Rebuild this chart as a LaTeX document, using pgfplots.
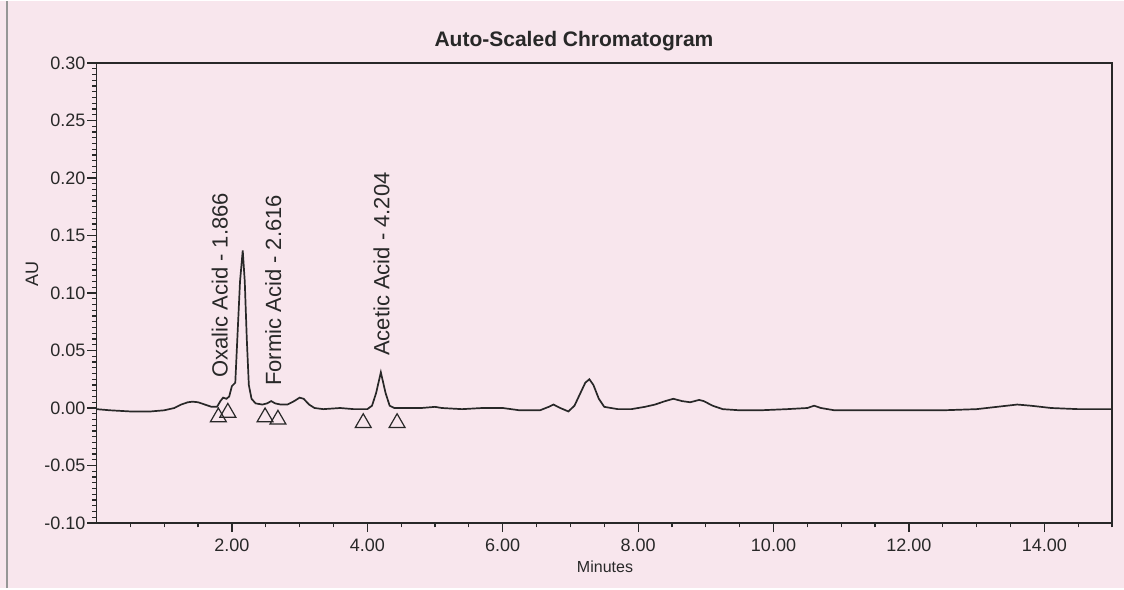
\documentclass[border=0pt]{standalone}
\usepackage{pgfplots}
\pgfplotsset{compat=1.18}
\usepackage{fontspec}
\setmainfont{Liberation Sans}
\definecolor{bg}{RGB}{248,230,237}
\definecolor{ink}{RGB}{40,40,40}
\definecolor{frame}{RGB}{150,150,150}
\pgfplotstableread{
t v
0.00 -0.001
0.20 -0.002
0.50 -0.003
0.80 -0.003
1.00 -0.002
1.15 0.000
1.25 0.003
1.35 0.005
1.42 0.0055
1.50 0.005
1.60 0.003
1.70 0.001
1.78 0.001
1.83 0.006
1.87 0.009
1.92 0.008
1.96 0.010
2.00 0.019
2.05 0.022
2.08 0.060
2.12 0.110
2.16 0.137
2.19 0.110
2.22 0.060
2.25 0.020
2.29 0.008
2.35 0.004
2.45 0.003
2.52 0.004
2.58 0.006
2.64 0.004
2.72 0.003
2.82 0.003
2.92 0.006
3.00 0.009
3.06 0.008
3.14 0.003
3.22 0.000
3.35 -0.001
3.60 0.000
3.80 -0.001
4.00 -0.001
4.07 0.002
4.13 0.013
4.20 0.031
4.27 0.013
4.33 0.002
4.40 0.000
4.60 0.000
4.80 0.000
5.00 0.001
5.10 0.000
5.40 -0.001
5.70 0.000
6.00 0.000
6.25 -0.002
6.55 -0.002
6.68 0.001
6.75 0.003
6.85 0.000
6.97 -0.003
7.06 0.002
7.14 0.012
7.22 0.022
7.28 0.025
7.34 0.020
7.42 0.008
7.50 0.001
7.70 -0.001
7.90 -0.001
8.10 0.001
8.25 0.003
8.40 0.006
8.52 0.008
8.65 0.006
8.77 0.005
8.90 0.007
8.97 0.006
9.10 0.002
9.25 -0.001
9.50 -0.002
9.80 -0.002
10.20 -0.001
10.50 0.000
10.60 0.002
10.70 0.000
10.90 -0.002
11.50 -0.002
12.00 -0.002
12.50 -0.002
13.00 -0.001
13.30 0.001
13.60 0.003
13.80 0.002
14.10 0.000
14.50 -0.001
15.00 -0.001
}\trace
\pgfplotstableread{
t v
1.80 -0.008
1.94 -0.004
2.49 -0.008
2.68 -0.010
3.94 -0.013
4.44 -0.013
}\marks
\begin{document}
\begin{tikzpicture}
\fill[bg] (0pt,0pt) rectangle (562pt,293.5pt);
\draw[frame, line width=1pt] (3.5pt,0pt) -- (3.5pt,293.5pt);
\begin{axis}[
  at={(48.25pt,32.5pt)}, anchor=south west,
  scale only axis, width=507.75pt, height=230pt,
  xmin=0, xmax=15, ymin=-0.10, ymax=0.30,
  xtick={2,4,6,8,10,12,14},
  minor xtick={0.5,1,1.5,2.5,3,3.5,4.5,5,5.5,6.5,7,7.5,8.5,9,9.5,10.5,11,11.5,12.5,13,13.5,14.5,15},
  ytick={-0.1,-0.05,0,0.05,0.1,0.15,0.2,0.25,0.3},
  minor y tick num=9,
  xtick pos=bottom, ytick pos=left,
  tick align=outside,
  major tick length=4.5pt, minor tick length=2.2pt,
  tick style={ink, line width=0.6pt},
  axis line style={ink, line width=0.8pt},
  ticklabel style={font=\fontsize{9}{10}\selectfont, text=ink},
  yticklabel style={inner sep=0.8pt},
  /pgf/number format/.cd, fixed, fixed zerofill, precision=2, assume math mode=true,
]
\addplot[ink, line width=0.85pt] table[x=t, y=v] {\trace};
\addplot[only marks, mark=triangle, mark size=4.6pt, mark options={ink, line width=0.6pt, fill=none}] table[x=t, y=v] {\marks};
\node[rotate=90, anchor=west, inner sep=0pt, font=\fontsize{11}{12}\selectfont, text=ink] at (axis cs:1.82,0.026) {Oxalic Acid - 1.866};
\node[rotate=90, anchor=west, inner sep=0pt, font=\fontsize{11}{12}\selectfont, text=ink] at (axis cs:2.61,0.019) {Formic Acid - 2.616};
\node[rotate=90, anchor=west, inner sep=0pt, font=\fontsize{11}{12}\selectfont, text=ink] at (axis cs:4.21,0.045) {Acetic Acid - 4.204};
\end{axis}
\node[font=\bfseries\fontsize{10.5}{12}\selectfont, text=ink] at (287pt,273.5pt) {Auto-Scaled Chromatogram};
\node[rotate=90, font=\fontsize{9}{10}\selectfont, text=ink] at (16pt,157pt) {AU};
\node[font=\fontsize{8}{9}\selectfont, text=ink] at (302.5pt,10.5pt) {Minutes};
\end{tikzpicture}
\end{document}
